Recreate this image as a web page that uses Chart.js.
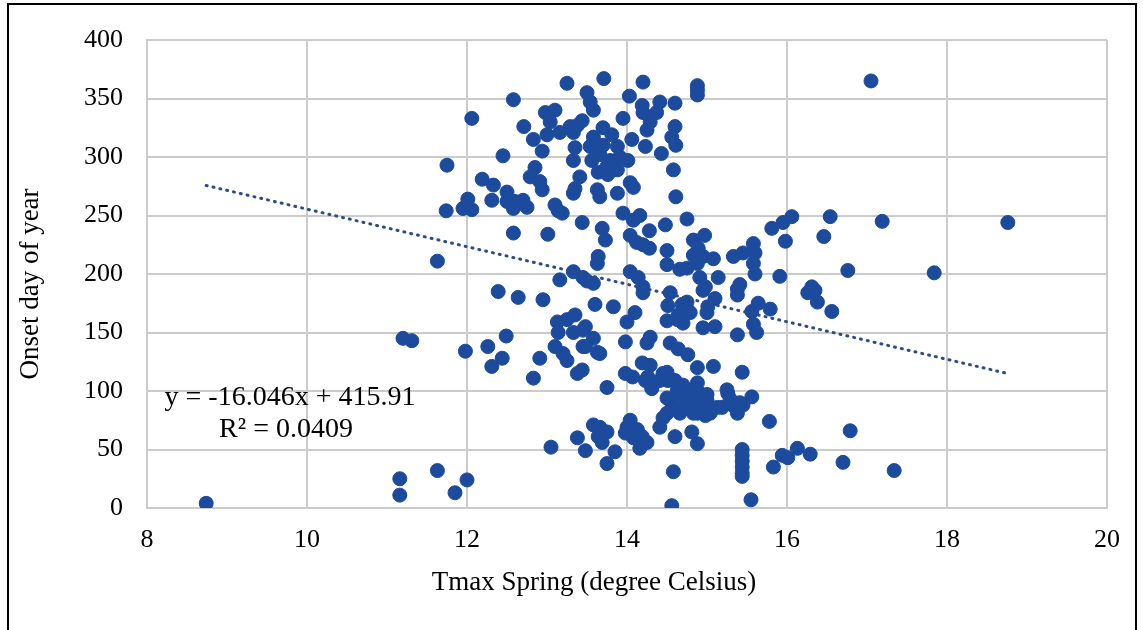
<!DOCTYPE html>
<html>
<head>
<meta charset="utf-8">
<script src="https://cdn.jsdelivr.net/npm/chart.js@4.4.1/dist/chart.umd.min.js"></script>
<style>
  html, body { margin: 0; padding: 0; background: #fff; }
  #onsetChart { display: block; }
</style>
</head>
<body>
<canvas id="onsetChart" width="1143" height="630"></canvas>
<script>
// Tmax spring (x) vs onset day of year (y)
const tmaxSpring = [
  8.74, 11.16, 11.16, 11.63, 11.85, 12.0, 11.2, 11.31, 11.98, 11.63, 11.75, 12.06, 11.74, 11.95, 12.01, 12.06,
  12.19, 12.33, 12.45, 12.58, 12.5, 12.5, 12.6, 12.7, 12.75, 12.58, 12.31, 12.58, 12.71, 12.83, 12.94, 12.85,
  12.79, 12.91, 12.94, 12.98, 13.1, 13.04, 13.0, 13.16, 13.29, 13.38, 13.44, 13.33, 13.1, 13.19, 13.14, 13.01,
  13.44, 13.25, 13.5, 13.54, 13.58,
  13.58, 13.7, 13.81, 13.88, 13.91, 13.88, 13.76, 13.64, 13.56, 13.54, 13.66, 13.79, 14.01, 14.04, 14.08, 13.88,
  13.63, 13.66, 13.35, 13.33, 13.41, 13.33, 13.35, 13.71, 13.95, 14.03, 14.06, 13.7, 13.75,
  14.2, 14.19, 14.2, 14.41, 14.37, 14.29, 14.25, 14.6, 14.6, 14.56, 14.61, 14.23, 14.43, 14.58, 14.61, 14.88,
  14.88, 14.88,
  13.69, 13.73, 13.95, 14.08, 14.16, 14.04, 14.12, 14.2, 14.28, 14.28, 14.48, 14.75, 14.5, 14.5, 13.64, 13.63,
  13.33, 13.16, 13.5, 13.58, 13.45, 14.04, 14.14, 14.2, 14.2, 14.83, 14.97, 14.89, 14.83, 14.95, 15.08, 14.88,
  14.75, 14.66, 14.91, 15.14, 14.98, 15.1, 15.33, 15.45, 15.58, 15.6, 15.58, 15.6, 15.81, 15.95, 16.06, 15.98,
  15.91, 16.54, 16.46, 17.19, 18.76, 16.76, 17.84, 17.05, 15.38, 15.41, 15.38, 16.31, 16.35, 16.26, 16.38, 16.56,
  15.64, 15.79, 15.56, 15.58, 15.62, 15.38,
  12.39, 12.64, 12.95, 13.6, 13.83, 14.54, 14.51, 14.5, 14.64, 14.69, 14.75, 14.79, 14.7, 14.63, 15.0, 14.95,
  15.1, 15.01, 14.95, 14.0, 14.1, 13.98, 14.29, 14.25, 14.54, 14.64, 14.76, 14.88, 15.08, 15.44, 13.48, 13.58,
  13.66, 13.45, 13.44, 13.38, 13.75, 13.13, 13.25, 13.35, 13.14, 13.33, 13.45, 13.1, 13.2, 13.48, 13.25, 12.91,
  12.83, 13.63, 12.49, 12.26, 12.44, 12.31,
  13.98, 14.07, 14.19, 14.29, 14.23, 14.31, 14.26, 14.45, 14.51, 14.63, 14.7, 14.79, 14.89, 14.98, 14.54, 14.66,
  14.6, 14.85, 14.91, 15.0, 14.66, 14.83, 14.98, 15.08, 15.19, 15.26, 15.38, 15.45, 15.56, 15.25, 14.56, 14.5,
  14.66, 14.88, 14.95, 15.04, 15.13, 15.0, 15.29, 15.35, 15.41, 14.75, 14.63, 14.83, 14.41, 14.31, 14.5, 14.88,
  14.91,
  13.58, 13.66, 13.75, 13.64, 13.69, 13.85, 13.75, 13.38, 13.48, 13.05, 14.0, 14.04, 14.13, 14.19, 14.25, 14.16,
  14.08, 13.98, 14.41, 14.45, 14.5, 14.6, 14.81, 14.88, 14.58, 14.56, 15.44, 15.44, 15.44, 15.44, 15.44, 15.44,
  15.55, 15.78, 16.79, 16.13, 15.94, 16.01, 16.29, 15.83, 16.7, 17.34
];
const onsetDay = [
  4, 25, 11, 32, 13, 24, 145, 143, 134, 211, 293, 333, 254, 256, 264, 255,
  281, 276, 301, 349, 270, 262, 262, 263, 257, 256, 263, 235, 326, 315, 305, 291,
  283, 279, 272, 338, 340, 330, 319, 321, 326, 327, 331, 321, 259, 252, 254, 234,
  244, 363, 355, 347, 340,
  317, 325, 319, 309, 300, 289, 285, 287, 297, 309, 302, 297, 297, 278, 274, 269,
  272, 266, 273, 269, 283, 297, 308, 367, 333, 352, 315, 310, 292,
  364, 344, 338, 347, 338, 330, 323, 346, 326, 317, 310, 309, 303, 289, 266, 361,
  357, 353,
  239, 229, 252, 246, 250, 233, 227, 225, 222, 237, 242, 247, 220, 208, 215, 209,
  202, 195, 194, 192, 197, 202, 197, 189, 184, 229, 233, 222, 216, 215, 213, 209,
  205, 204, 197, 197, 189, 179, 215, 218, 226, 218, 209, 200, 239, 244, 249, 228,
  198, 249, 232, 245, 244, 203, 201, 365, 187, 191, 182, 189, 186, 184, 176, 168,
  175, 170, 168, 157, 150, 148,
  185, 180, 178, 174, 172, 184, 173, 160, 165, 174, 176, 167, 158, 161, 167, 154,
  155, 172, 186, 159, 167, 142, 146, 141, 141, 136, 131, 120, 121, 116, 155, 145,
  132, 138, 118, 115, 103, 159, 161, 165, 150, 150, 152, 138, 132, 138, 126, 128,
  111, 133, 147, 138, 128, 121,
  115, 112, 124, 122, 109, 102, 112, 115, 109, 101, 105, 98, 99, 95, 92, 98,
  109, 101, 91, 97, 84, 81, 79, 85, 86, 98, 81, 88, 95, 101, 90, 94,
  81, 81, 90, 81, 86, 92, 93, 86, 90, 90, 86, 86, 109, 103, 116, 107,
  98,
  71, 69, 65, 61, 56, 48, 38, 60, 49, 52, 69, 75, 67, 61, 56, 51,
  60, 64, 69, 77, 81, 61, 65, 55, 31, 2, 50, 45, 40, 35, 30, 27,
  7, 74, 66, 51, 45, 43, 46, 35, 39, 32
];

// linear trendline as printed on the chart
const trendSlope = -16.046;
const trendIntercept = 415.91;
const equationLines = ['y = -16.046x + 415.91', 'R² = 0.0409'];

const xTicks = [8, 10, 12, 14, 16, 18, 20];
const yTicks = [0, 50, 100, 150, 200, 250, 300, 350, 400];
const xTitle = 'Tmax Spring (degree Celsius)';
const yTitle = 'Onset day of year';

const points = tmaxSpring.map((t, i) => ({ x: t, y: onsetDay[i] }));
const xMin = Math.min(...tmaxSpring);
const xMax = Math.max(...tmaxSpring);
const trendPoints = [
  { x: xMin, y: trendSlope * xMin + trendIntercept },
  { x: xMax, y: trendSlope * xMax + trendIntercept }
];

const serif = 'Liberation Serif, Times New Roman, serif';
const gridGray = '#cbcbcb';

// frame, axis titles and equation label
const decorations = {
  id: 'decorations',
  beforeDraw(chart) {
    const ctx = chart.ctx;
    ctx.save();
    ctx.fillStyle = '#fff';
    ctx.fillRect(0, 0, chart.width, chart.height);
    ctx.strokeStyle = '#000';
    ctx.lineWidth = 2;
    ctx.strokeRect(8, 4, 1128, 700);
    ctx.restore();
  },
  afterDraw(chart) {
    const ctx = chart.ctx;
    ctx.save();
    ctx.fillStyle = '#000';
    ctx.textAlign = 'center';
    ctx.textBaseline = 'middle';
    ctx.font = '27px ' + serif;
    ctx.fillText(xTitle, 594, 583);
    ctx.translate(31, 284);
    ctx.rotate(-Math.PI / 2);
    ctx.fillText(yTitle, 0, 0);
    ctx.restore();
  },
  afterDatasetsDraw(chart) {
    const ctx = chart.ctx;
    ctx.save();
    ctx.font = '28px ' + serif;
    ctx.fillStyle = '#000';
    ctx.textAlign = 'center';
    ctx.textBaseline = 'middle';
    ctx.fillText(equationLines[0], 290, 398);
    ctx.fillText(equationLines[1], 286, 430);
    ctx.restore();
  }
};

new Chart(document.getElementById('onsetChart'), {
  type: 'scatter',
  data: {
    datasets: [
      {
        label: 'Onset',
        data: points,
        backgroundColor: '#1c4a9c',
        borderColor: '#1c4a9c',
        pointRadius: 7,
        pointHoverRadius: 7,
        order: 2
      },
      {
        label: 'Linear trend',
        type: 'line',
        data: trendPoints,
        borderColor: '#2b4c86',
        borderWidth: 3,
        borderDash: [1, 6],
        borderCapStyle: 'round',
        pointRadius: 0,
        fill: false,
        order: 1
      }
    ]
  },
  options: {
    responsive: false,
    animation: false,
    layout: { padding: { left: 14, top: 40, right: 36, bottom: 30 } },
    plugins: {
      legend: { display: false },
      tooltip: { enabled: false }
    },
    scales: {
      x: {
        type: 'linear',
        min: 8,
        max: 20,
        afterBuildTicks: (s) => { s.ticks = xTicks.map(v => ({ value: v })); },
        afterFit: (s) => { s.height = 92; },
        grid: { color: gridGray, lineWidth: 2, drawTicks: false },
        border: { color: gridGray, width: 2 },
        ticks: { color: '#000', padding: 17, font: { family: serif, size: 26 } }
      },
      y: {
        type: 'linear',
        min: 0,
        max: 400,
        afterBuildTicks: (s) => { s.ticks = yTicks.map(v => ({ value: v })); },
        afterFit: (s) => { s.width = 133; },
        grid: { color: gridGray, lineWidth: 2, drawTicks: false },
        border: { color: gridGray, width: 2 },
        ticks: { color: '#000', padding: 24, font: { family: serif, size: 26 } }
      }
    }
  },
  plugins: [decorations]
});
</script>
</body>
</html>
